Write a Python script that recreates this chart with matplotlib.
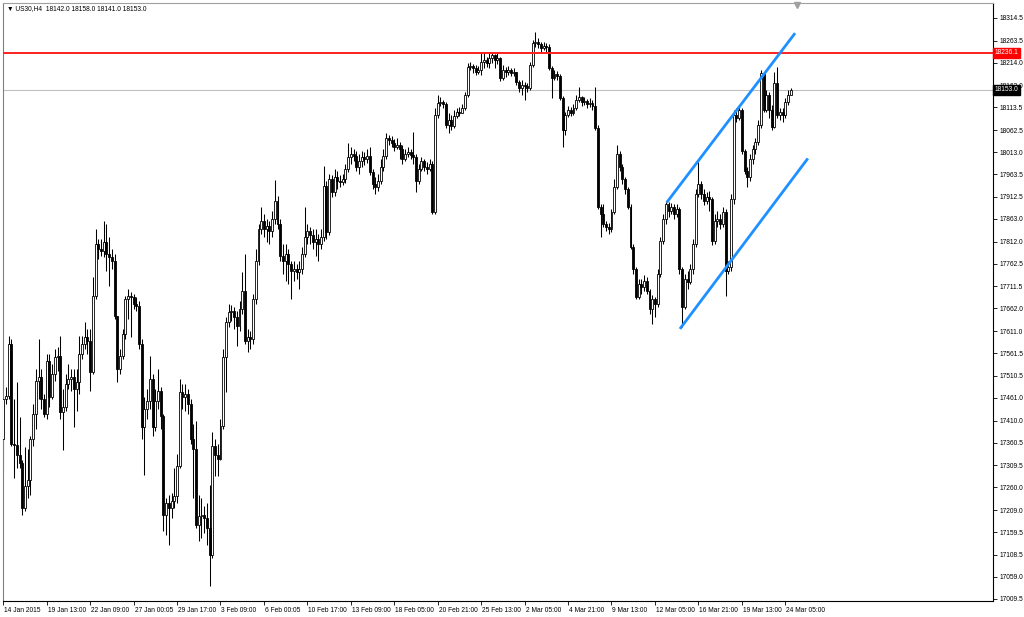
import matplotlib
matplotlib.use("Agg")
import matplotlib.pyplot as plt
import matplotlib.transforms as mtransforms
import numpy as np

# US30 H4 bars, 14 Jan - 24 Mar 2015
first_open = 17369.8
closes = [
    17459.4, 17466.1, 17582.5, 17358.6, 17356.4, 17331.8, 17313.9, 17213.1, 17262.4, 17275.8,
    17369.8, 17425.8, 17499.7, 17508.6, 17459.4, 17425.8, 17544.4, 17463.8, 17515.3, 17553.4,
    17555.6, 17430.3, 17441.5, 17492.9, 17504.1, 17508.6, 17481.8, 17497.4, 17560.1, 17582.5,
    17598.2, 17589.2, 17519.8, 17689.9, 17806.3, 17795.2, 17790.7, 17810.8, 17784.0, 17777.2,
    17768.3, 17645.2, 17526.5, 17555.6, 17604.9, 17683.2, 17689.9, 17687.7, 17672.0, 17667.6,
    17582.5, 17396.7, 17437.0, 17454.9, 17504.1, 17396.7, 17454.9, 17477.3, 17421.3, 17197.4,
    17224.3, 17213.1, 17228.8, 17240.0, 17307.1, 17475.0, 17463.8, 17470.6, 17448.2, 17369.8,
    17347.4, 17175.1, 17195.2, 17197.4, 17190.7, 17168.3, 17107.9, 17354.2, 17331.8, 17325.0,
    17398.9, 17553.4, 17631.7, 17654.1, 17656.4, 17642.9, 17622.8, 17660.8, 17701.1, 17589.2,
    17598.2, 17593.7, 17683.2, 17768.3, 17839.9, 17857.8, 17839.9, 17846.6, 17835.4, 17862.3,
    17902.6, 17851.1, 17779.5, 17768.3, 17784.0, 17761.6, 17745.9, 17750.4, 17743.7, 17750.4,
    17784.0, 17822.0, 17835.4, 17826.5, 17810.8, 17817.5, 17806.3, 17822.0, 17936.2, 17833.2,
    17951.9, 17922.8, 17956.3, 17947.4, 17945.1, 17951.9, 17974.2, 18001.1, 18007.8, 18003.3,
    17978.7, 17992.2, 18001.1, 17996.6, 18003.3, 17967.5, 17940.7, 17933.9, 17947.4, 17978.7,
    18003.3, 18045.9, 18039.2, 18034.7, 18025.7, 18030.2, 18019.0, 17996.6, 18007.8, 18012.3,
    18005.6, 18001.1, 17947.4, 17974.2, 17992.2, 17978.7, 17974.2, 17985.4, 17878.0, 18097.4,
    18124.2, 18126.5, 18122.0, 18075.0, 18086.2, 18072.7, 18095.1, 18104.1, 18101.8, 18113.0,
    18142.1, 18204.8, 18207.0, 18202.6, 18193.6, 18198.1, 18216.0, 18220.5, 18213.8, 18225.0,
    18231.7, 18220.5, 18225.0, 18180.2, 18198.1, 18193.6, 18198.1, 18191.4, 18193.6, 18171.2,
    18157.8, 18164.5, 18162.3, 18157.8, 18209.3, 18258.5, 18260.8, 18256.3, 18247.3, 18251.8,
    18249.6, 18202.6, 18180.2, 18189.1, 18184.7, 18135.4, 18063.8, 18097.4, 18108.6, 18101.8,
    18113.0, 18130.9, 18137.7, 18126.5, 18128.7, 18122.0, 18124.2, 18117.5, 18068.3, 17889.2,
    17873.5, 17851.1, 17844.4, 17839.9, 17878.0, 17933.9, 18007.8, 17978.7, 17951.9, 17929.5,
    17889.2, 17799.6, 17750.4, 17687.7, 17716.8, 17710.1, 17723.5, 17701.1, 17660.8, 17683.2,
    17672.0, 17739.2, 17813.1, 17862.3, 17895.9, 17880.2, 17889.2, 17873.5, 17884.7, 17750.4,
    17665.3, 17728.0, 17721.3, 17750.4, 17806.3, 17918.3, 17940.7, 17918.3, 17902.6, 17911.6,
    17907.1, 17813.1, 17857.8, 17862.3, 17851.1, 17878.0, 17745.9, 17754.9, 17907.1, 18097.4,
    18090.6, 18108.6, 18014.5, 17969.8, 17956.3, 17996.6, 18019.0, 18036.9, 18075.0, 18191.4,
    18108.6, 18142.1, 18108.6, 18070.5, 18169.0, 18097.4, 18104.1, 18097.4, 18126.5, 18142.0,
    18153.0,
]
highs = [
    17470.6, 17486.2, 17600.4, 17593.7, 17459.4, 17497.4, 17419.1, 17320.6, 17351.9, 17347.4,
    17376.5, 17448.2, 17526.5, 17593.7, 17526.5, 17470.6, 17560.1, 17560.1, 17537.7, 17571.3,
    17575.8, 17600.4, 17481.8, 17515.3, 17537.7, 17526.5, 17526.5, 17526.5, 17600.4, 17600.4,
    17631.7, 17616.1, 17616.1, 17732.5, 17839.9, 17817.5, 17817.5, 17857.8, 17851.1, 17822.0,
    17795.2, 17784.0, 17593.7, 17571.3, 17616.1, 17689.9, 17705.6, 17698.9, 17694.4, 17687.7,
    17678.7, 17593.7, 17463.8, 17481.8, 17555.6, 17515.3, 17481.8, 17526.5, 17486.2, 17425.8,
    17235.5, 17242.2, 17246.7, 17302.7, 17336.2, 17504.1, 17492.9, 17492.9, 17481.8, 17459.4,
    17403.4, 17410.1, 17242.2, 17235.5, 17217.6, 17224.3, 17264.6, 17385.5, 17369.8, 17358.6,
    17414.6, 17571.3, 17642.9, 17672.0, 17669.8, 17665.3, 17656.4, 17678.7, 17743.7, 17784.0,
    17616.1, 17611.6, 17694.4, 17795.2, 17851.1, 17889.2, 17873.5, 17862.3, 17857.8, 17880.2,
    17949.6, 17913.8, 17862.3, 17806.3, 17806.3, 17795.2, 17768.3, 17768.3, 17761.6, 17768.3,
    17799.6, 17889.2, 17851.1, 17844.4, 17839.9, 17839.9, 17828.7, 17839.9, 17981.0, 17947.4,
    17963.0, 17960.8, 17974.2, 17969.8, 17960.8, 17963.0, 17985.4, 18034.7, 18023.5, 18019.0,
    18014.5, 18007.8, 18014.5, 18012.3, 18019.0, 18025.7, 17974.2, 17956.3, 17963.0, 17996.6,
    18019.0, 18057.1, 18052.6, 18050.4, 18043.6, 18045.9, 18036.9, 18030.2, 18019.0, 18023.5,
    18019.0, 18059.3, 18007.8, 17985.4, 18001.1, 17996.6, 17989.9, 17996.6, 17992.2, 18113.0,
    18142.1, 18137.7, 18130.9, 18126.5, 18101.8, 18097.4, 18108.6, 18113.0, 18115.3, 18122.0,
    18148.9, 18213.8, 18216.0, 18211.5, 18209.3, 18207.0, 18236.2, 18236.2, 18227.2, 18238.4,
    18238.4, 18233.9, 18236.2, 18227.2, 18209.3, 18204.8, 18207.0, 18202.6, 18202.6, 18193.6,
    18175.7, 18175.7, 18171.2, 18169.0, 18216.0, 18265.3, 18283.2, 18269.7, 18260.8, 18260.8,
    18258.5, 18256.3, 18207.0, 18198.1, 18195.9, 18189.1, 18139.9, 18104.1, 18117.5, 18115.3,
    18122.0, 18142.1, 18160.0, 18139.9, 18137.7, 18133.2, 18135.4, 18130.9, 18160.0, 18075.0,
    17895.9, 17895.9, 17857.8, 17853.4, 17884.7, 17951.9, 18030.2, 18014.5, 17985.4, 17956.3,
    17933.9, 17895.9, 17806.3, 17754.9, 17728.0, 17728.0, 17737.0, 17732.5, 17705.6, 17692.2,
    17687.7, 17750.4, 17822.0, 17873.5, 17900.4, 17900.4, 17898.1, 17895.9, 17895.9, 17889.2,
    17754.9, 17739.2, 17745.9, 17761.6, 17817.5, 17929.5, 17989.9, 17947.4, 17929.5, 17922.8,
    17925.0, 17911.6, 17873.5, 17880.2, 17873.5, 17889.2, 17884.7, 17768.3, 17918.3, 18108.6,
    18113.0, 18119.8, 18113.0, 18019.0, 17978.7, 18007.8, 18030.2, 18045.9, 18086.2, 18198.1,
    18193.6, 18153.3, 18148.9, 18119.8, 18193.6, 18204.8, 18113.0, 18113.0, 18135.4, 18153.3,
    18158.0,
]
lows = [
    17295.9, 17448.2, 17459.4, 17354.2, 17280.3, 17302.7, 17302.7, 17197.4, 17206.4, 17235.5,
    17242.2, 17354.2, 17392.2, 17459.4, 17437.0, 17419.1, 17414.6, 17441.5, 17459.4, 17499.7,
    17522.0, 17414.6, 17343.0, 17432.5, 17481.8, 17477.3, 17396.7, 17432.5, 17470.6, 17548.9,
    17571.3, 17560.1, 17477.3, 17515.3, 17683.2, 17772.8, 17779.5, 17777.2, 17745.9, 17712.3,
    17750.4, 17638.5, 17497.4, 17515.3, 17548.9, 17593.7, 17638.5, 17598.2, 17660.8, 17656.4,
    17571.3, 17369.8, 17287.0, 17414.6, 17437.0, 17376.5, 17387.7, 17437.0, 17392.2, 17161.6,
    17152.7, 17130.3, 17190.7, 17213.1, 17224.3, 17302.7, 17437.0, 17432.5, 17425.8, 17358.6,
    17235.5, 17168.3, 17139.2, 17146.0, 17157.2, 17130.3, 17038.5, 17101.2, 17284.8, 17284.8,
    17320.6, 17392.2, 17475.0, 17620.5, 17634.0, 17616.1, 17578.0, 17611.6, 17649.6, 17582.5,
    17564.6, 17571.3, 17582.5, 17672.0, 17759.3, 17828.7, 17822.0, 17810.8, 17806.3, 17822.0,
    17851.1, 17839.9, 17768.3, 17739.2, 17723.5, 17716.8, 17683.2, 17723.5, 17728.0, 17705.6,
    17739.2, 17777.2, 17806.3, 17806.3, 17795.2, 17779.5, 17768.3, 17795.2, 17813.1, 17817.5,
    17826.5, 17911.6, 17913.8, 17929.5, 17933.9, 17938.4, 17942.9, 17967.5, 17985.4, 17992.2,
    17969.8, 17963.0, 17978.7, 17983.2, 17987.7, 17960.8, 17929.5, 17918.3, 17925.0, 17940.7,
    17969.8, 17996.6, 18028.0, 18023.5, 18014.5, 18019.0, 17996.6, 17985.4, 17992.2, 18001.1,
    17996.6, 17985.4, 17922.8, 17940.7, 17969.8, 17969.8, 17963.0, 17969.8, 17873.5, 17873.5,
    18090.6, 18117.5, 18113.0, 18068.3, 18057.1, 18063.8, 18068.3, 18090.6, 18095.1, 18101.8,
    18108.6, 18137.7, 18198.1, 18191.4, 18186.9, 18189.1, 18186.9, 18202.6, 18204.8, 18202.6,
    18213.8, 18202.6, 18211.5, 18173.5, 18175.7, 18182.4, 18186.9, 18184.7, 18184.7, 18164.5,
    18148.9, 18142.1, 18130.9, 18148.9, 18153.3, 18204.8, 18249.6, 18247.3, 18238.4, 18242.9,
    18238.4, 18198.1, 18135.4, 18175.7, 18175.7, 18130.9, 18025.7, 18052.6, 18092.9, 18095.1,
    18097.4, 18108.6, 18126.5, 18117.5, 18119.8, 18113.0, 18115.3, 18108.6, 18063.8, 17884.7,
    17822.0, 17844.4, 17835.4, 17828.7, 17833.2, 17873.5, 17929.5, 17969.8, 17940.7, 17918.3,
    17884.7, 17795.2, 17739.2, 17683.2, 17683.2, 17694.4, 17701.1, 17694.4, 17649.6, 17627.3,
    17642.9, 17665.3, 17732.5, 17806.3, 17851.1, 17866.8, 17873.5, 17862.3, 17866.8, 17739.2,
    17620.5, 17660.8, 17705.6, 17716.8, 17739.2, 17799.6, 17911.6, 17907.1, 17893.6, 17895.9,
    17880.2, 17804.1, 17806.3, 17844.4, 17839.9, 17844.4, 17689.9, 17739.2, 17745.9, 17895.9,
    18081.7, 18086.2, 18007.8, 17963.0, 17933.9, 17947.4, 17985.4, 18007.8, 18030.2, 18068.3,
    18104.1, 18104.1, 18090.6, 18063.8, 18068.3, 18090.6, 18086.2, 18081.7, 18090.6, 18119.8,
    18141.0,
]

time_labels = ["14 Jan 2015", "19 Jan 13:00", "22 Jan 09:00", "27 Jan 00:05", "29 Jan 17:00",
               "3 Feb 09:00", "6 Feb 00:05", "10 Feb 17:00", "13 Feb 09:00", "18 Feb 05:00",
               "20 Feb 21:00", "25 Feb 13:00", "2 Mar 05:00", "4 Mar 21:00", "9 Mar 13:00",
               "12 Mar 05:00", "16 Mar 21:00", "19 Mar 13:00", "24 Mar 05:00"]
label_step = 16  # bars between time labels

price_ticks = [18314.5, 18263.5, 18214.0, 18163.0, 18113.5, 18062.5, 18013.0, 17963.5,
               17912.5, 17863.0, 17812.0, 17762.5, 17711.5, 17662.0, 17611.0, 17561.5,
               17510.5, 17461.0, 17410.0, 17360.5, 17309.5, 17260.0, 17209.0, 17159.5,
               17108.5, 17059.0, 17009.5]

resistance = 18236.1
bid = 18153.0
channel_upper = [(244.3, 17899.7), (291.6, 18280.3)]
channel_lower = [(249.2, 17616.1), (296.3, 17998.9)]
header = "\u25bc US30,H4  18142.0 18158.0 18141.0 18153.0"

FONT = ["Liberation Sans", "DejaVu Sans"]
FS = 4.8

# ---------------------------------------------------------------
plt.rcParams["font.family"] = FONT

closes = np.array(closes)
opens = np.concatenate([[first_open], closes[:-1]])
hi = np.maximum(np.array(highs), np.maximum(opens, closes))
lo = np.minimum(np.array(lows), np.minimum(opens, closes))
x = np.arange(len(closes))

fig = plt.figure(figsize=(10.24, 6.17), dpi=100, facecolor="white")
ax = fig.add_axes([3 / 1024, 16 / 617, 990 / 1024, 598 / 617])
ax.set_facecolor("white")

ax.vlines(x, lo, hi, color="black", lw=0.75, zorder=2)
up = closes >= opens
ax.bar(x[up], closes[up] - opens[up], bottom=opens[up], width=0.72,
       color="white", edgecolor="black", lw=0.6, zorder=3)
ax.bar(x[~up], closes[~up] - opens[~up], bottom=opens[~up], width=0.72,
       color="black", edgecolor="black", lw=0.6, zorder=3)

ax.axhline(bid, color="#c0c0c0", lw=0.8, zorder=1)
ax.axhline(resistance, color="#ff2020", lw=1.4, zorder=4)
for pts in (channel_upper, channel_lower):
    (x0, y0), (x1, y1) = pts
    ax.plot([x0, x1], [y0, y1], color="#1e90ff", lw=2.0, solid_capstyle="butt", zorder=5)

ax.set_xlim(-0.1, 364.5)
ax.set_ylim(17005.0, 18348.0)

ax.yaxis.tick_right()
ax.set_yticks(price_ticks)
ax.set_yticklabels([f"{v:.1f}" for v in price_ticks])
ax.tick_params(axis="y", direction="out", length=3, width=0.6, labelsize=FS, pad=2)

tick_pos = [i * label_step for i in range(len(time_labels))]
ax.set_xticks(tick_pos)
ax.set_xticklabels(time_labels, ha="left")
ax.tick_params(axis="x", direction="out", length=3, width=0.6, labelsize=FS, pad=1.5)
for lab in ax.get_xticklabels():
    lab.set_transform(lab.get_transform() + mtransforms.ScaledTranslation(1 / 100, 0, fig.dpi_scale_trans))

for sp in ax.spines.values():
    sp.set_color("black")
    sp.set_linewidth(0.8)
ax.spines["left"].set_color("#808080")
ax.spines["top"].set_color("#a0a0a0")

# price tags on the right scale
tr = mtransforms.blended_transform_factory(ax.transAxes, ax.transData)
ax.text(1.002, resistance, f"{resistance:.1f}", transform=tr, fontsize=FS, color="white",
        va="center", ha="left", zorder=10, clip_on=False,
        bbox=dict(boxstyle="square,pad=0.25", fc="#ff0000", ec="#ff0000"))
ax.text(1.002, bid, f"{bid:.1f}", transform=tr, fontsize=FS, color="white",
        va="center", ha="left", zorder=10, clip_on=False,
        bbox=dict(boxstyle="square,pad=0.25", fc="black", ec="black"))

# chart shift marker
ax.plot([0.802], [0.996], marker="v", color="#a0a0a0", markersize=4,
        transform=ax.transAxes, clip_on=False)

fig.text(7 / 1024, 1 - 9 / 617, header, fontsize=FS, va="center", ha="left")

fig.savefig("out.png", dpi=100, facecolor="white")
